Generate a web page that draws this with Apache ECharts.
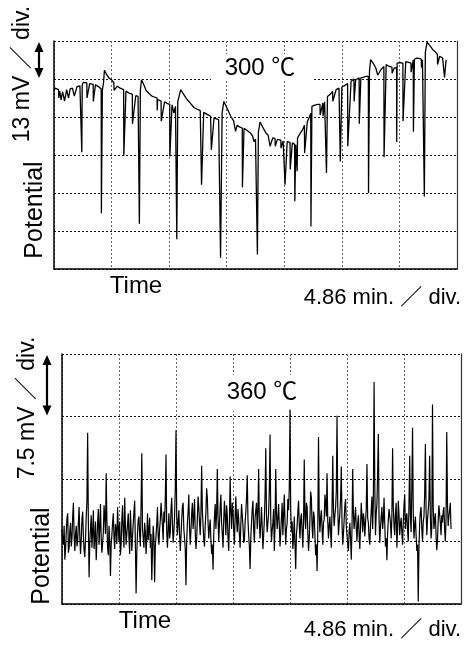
<!DOCTYPE html>
<html><head><meta charset="utf-8">
<script src="https://cdn.jsdelivr.net/npm/echarts@6/dist/echarts.min.js"></script>
<style>html,body{margin:0;padding:0;background:#fff}#c{width:465px;height:645px}</style>
</head><body><div id="c"></div>
<script>
// ---- data (x in divisions of 4.86 min, y in divisions of the mV scale) ----
const topTrace = [[0.00,4.70],[0.02,4.76],[0.05,4.74],[0.08,4.72],[0.083,4.50],[0.10,4.68],[0.12,4.70],[0.123,4.45],[0.15,4.66],[0.18,4.70],[0.183,4.42],[0.22,4.72],[0.25,4.73],[0.253,4.50],[0.28,4.74],[0.32,4.76],[0.35,4.78],[0.353,4.55],[0.40,4.80],[0.45,4.82],[0.48,4.82],[0.483,3.07],[0.49,4.84],[0.51,4.91],[0.54,4.90],[0.57,4.90],[0.573,4.50],[0.62,4.88],[0.68,4.86],[0.683,4.41],[0.72,4.85],[0.77,4.80],[0.80,4.78],[0.82,4.74],[0.823,1.47],[0.84,4.70],[0.86,4.90],[0.876,5.23],[0.92,5.10],[0.96,5.02],[1.00,4.98],[1.04,4.90],[1.043,4.70],[1.10,4.81],[1.15,4.76],[1.21,4.72],[1.213,2.98],[1.25,4.68],[1.30,4.63],[1.36,4.60],[1.363,3.82],[1.42,4.56],[1.46,4.54],[1.48,4.52],[1.483,1.19],[1.50,4.70],[1.52,4.98],[1.56,4.85],[1.60,4.70],[1.65,4.62],[1.70,4.55],[1.75,4.52],[1.79,4.50],[1.793,4.17],[1.80,4.46],[1.86,4.42],[1.863,3.89],[1.92,4.40],[1.96,4.36],[2.01,4.33],[2.013,2.96],[2.05,4.32],[2.08,4.30],[2.083,4.10],[2.11,4.28],[2.13,4.25],[2.133,0.78],[2.15,4.40],[2.20,4.72],[2.25,4.60],[2.31,4.46],[2.36,4.38],[2.43,4.25],[2.48,4.21],[2.54,4.17],[2.56,4.16],[2.563,2.22],[2.60,4.12],[2.66,4.07],[2.72,4.02],[2.73,4.01],[2.733,3.14],[2.78,3.98],[2.82,3.95],[2.86,3.93],[2.89,3.91],[2.893,0.29],[2.92,4.10],[2.95,4.41],[3.00,4.25],[3.07,4.02],[3.12,3.90],[3.15,3.85],[3.153,3.62],[3.18,3.78],[3.22,3.74],[3.27,3.71],[3.273,2.15],[3.30,3.70],[3.35,3.65],[3.41,3.58],[3.45,3.50],[3.47,3.46],[3.473,3.35],[3.50,3.42],[3.53,3.38],[3.533,0.38],[3.55,3.60],[3.58,3.87],[3.63,3.72],[3.68,3.58],[3.72,3.52],[3.75,3.50],[3.753,3.23],[3.80,3.45],[3.84,3.43],[3.843,3.23],[3.88,3.41],[3.91,3.40],[3.94,3.39],[3.943,3.18],[3.98,3.37],[4.01,3.36],[4.013,2.22],[4.05,3.35],[4.10,3.33],[4.103,2.62],[4.14,3.32],[4.16,3.30],[4.18,3.28],[4.183,1.78],[4.20,3.27],[4.22,3.30],[4.223,2.57],[4.23,3.45],[4.28,3.58],[4.32,3.67],[4.35,3.78],[4.353,3.05],[4.40,3.88],[4.43,3.97],[4.46,4.10],[4.463,1.12],[4.48,4.28],[4.53,4.31],[4.58,4.33],[4.62,4.33],[4.623,4.05],[4.67,4.37],[4.673,4.02],[4.70,4.40],[4.73,4.45],[4.733,2.53],[4.75,4.54],[4.80,4.60],[4.84,4.67],[4.843,4.41],[4.90,4.72],[4.95,4.76],[4.97,4.77],[4.973,2.83],[5.00,4.79],[5.04,4.82],[5.10,4.88],[5.103,3.23],[5.16,4.94],[5.21,5.00],[5.213,4.41],[5.24,4.98],[5.30,5.03],[5.303,3.82],[5.33,5.03],[5.38,5.05],[5.42,5.07],[5.46,5.07],[5.463,2.00],[5.48,5.20],[5.50,5.51],[5.55,5.40],[5.59,5.29],[5.62,5.28],[5.623,5.10],[5.68,5.25],[5.73,5.33],[5.733,2.94],[5.77,5.38],[5.82,5.33],[5.87,5.31],[5.873,5.15],[5.91,5.29],[5.95,5.30],[5.953,3.34],[5.96,5.42],[6.02,5.43],[6.06,5.42],[6.063,3.89],[6.11,5.46],[6.16,5.44],[6.20,5.42],[6.203,5.18],[6.24,5.50],[6.243,3.61],[6.26,5.52],[6.30,5.55],[6.34,5.54],[6.38,5.52],[6.383,5.30],[6.40,5.50],[6.43,5.45],[6.433,1.91],[6.45,5.70],[6.48,5.97],[6.53,5.88],[6.58,5.77],[6.62,5.72],[6.66,5.64],[6.663,5.38],[6.70,5.60],[6.75,5.55],[6.78,5.53],[6.783,5.04],[6.81,5.50]];

const bottomStep = 0.0125; // sample spacing, divisions
const bottomPotential = [
1.20,1.02,0.95,1.25,0.71,0.88,1.15,1.38,1.45,0.82,0.90,1.18,1.30,0.92,1.05,1.40,1.62,1.10,0.85,1.12,
1.25,0.92,1.00,1.30,1.55,1.08,0.80,1.02,1.35,1.48,1.10,0.86,0.75,1.05,1.40,1.65,2.74,1.30,0.43,0.98,
1.20,1.42,0.90,1.15,1.50,0.88,1.05,1.32,0.70,1.00,1.30,1.52,0.95,1.22,1.60,1.05,0.82,0.98,1.15,1.58,
1.40,1.12,2.09,1.35,0.90,0.78,1.25,1.02,0.45,0.95,1.10,1.30,1.45,1.05,0.88,1.28,1.20,0.96,1.55,1.22,
1.00,1.32,0.78,0.95,1.35,1.58,1.12,0.90,1.70,1.25,0.95,1.12,1.28,1.45,1.05,0.80,1.50,1.18,0.85,1.08,
1.30,1.48,1.65,0.95,0.17,0.82,1.15,1.35,1.40,1.10,0.92,1.60,2.41,1.20,1.05,0.90,1.30,1.15,0.80,1.05,
1.45,1.02,1.18,1.38,0.90,1.12,0.38,0.85,1.25,1.05,0.35,0.92,1.10,1.28,1.55,1.08,0.95,1.20,1.35,1.62,
1.60,1.25,1.02,1.48,1.30,1.70,2.39,1.15,0.90,1.20,1.45,1.05,1.15,1.52,1.70,1.28,0.98,1.15,1.40,1.85,
2.78,1.40,1.10,1.32,1.50,1.12,0.85,1.08,1.35,1.55,1.62,1.20,1.05,0.88,0.30,1.00,1.30,1.48,1.75,1.22,
0.95,1.18,1.45,1.62,1.20,1.40,1.68,1.15,0.88,1.05,1.38,1.72,1.55,1.30,1.10,1.45,2.21,1.50,1.25,1.02,
0.92,1.25,1.48,1.85,1.70,1.30,1.05,1.22,1.35,1.02,0.80,0.95,0.55,1.10,1.40,1.60,1.20,1.45,2.16,1.38,
1.00,1.28,1.55,1.75,1.30,1.12,0.90,1.35,1.65,1.40,1.10,1.58,1.42,1.05,0.85,1.30,2.04,1.48,1.20,1.62,
1.50,1.18,0.95,1.40,1.72,1.35,1.15,1.52,1.35,1.10,0.90,1.28,1.60,1.42,1.25,0.98,1.02,1.30,1.48,1.70,
2.06,1.35,1.10,0.92,0.56,1.05,1.30,1.52,1.65,1.20,0.98,1.38,1.40,1.62,1.20,1.48,2.16,1.30,1.05,1.28,
1.55,1.22,0.88,1.10,1.35,1.75,2.49,1.40,1.15,1.30,1.45,1.85,2.71,1.35,1.00,1.18,1.30,1.52,0.85,1.25,
2.16,1.45,1.20,1.38,1.60,1.25,0.92,1.15,1.38,1.62,1.10,1.42,1.75,1.30,0.95,1.20,1.30,1.68,1.50,1.85,
3.11,1.50,1.15,1.32,0.88,1.05,1.40,0.95,0.56,1.10,1.25,1.48,1.65,1.28,1.05,1.35,1.45,1.18,0.90,1.30,
2.31,1.40,1.20,1.62,1.55,1.15,0.85,1.05,1.35,1.80,1.70,1.25,1.05,1.48,1.40,1.10,0.78,0.95,0.53,1.20,
2.67,1.45,1.15,1.38,1.50,1.22,0.95,1.30,1.35,1.75,1.62,1.40,2.09,1.32,1.05,1.25,1.40,1.15,0.90,1.55,
2.37,1.50,1.25,1.42,1.55,1.80,3.01,1.60,1.10,1.28,1.45,1.70,2.20,1.30,0.95,1.12,1.35,1.58,1.68,1.25,
1.10,0.95,0.85,1.15,1.30,1.05,0.71,1.20,2.16,1.45,1.20,1.38,1.55,1.22,1.00,1.30,1.42,1.10,0.88,1.25,
1.62,1.40,1.15,1.45,1.35,1.08,1.05,1.52,2.24,1.38,1.30,1.05,0.95,1.25,1.50,1.72,1.20,1.65,3.55,1.90,
1.10,1.45,1.60,2.10,2.72,1.35,0.98,1.22,1.40,1.55,1.20,1.35,1.70,1.28,0.92,1.05,0.70,1.12,1.35,1.52,
1.55,1.30,1.05,1.40,2.49,1.55,1.25,1.10,1.45,1.62,0.90,1.20,1.65,1.42,1.10,1.28,1.38,1.15,0.95,1.30,
1.58,1.75,1.20,1.38,1.45,1.18,1.00,1.60,2.37,1.40,1.15,1.85,2.82,1.45,1.05,1.25,1.40,1.10,0.85,0.95,
0.04,0.90,1.30,1.48,1.55,1.20,1.00,1.32,1.40,1.75,2.56,1.50,1.10,1.35,1.50,1.68,2.37,1.40,1.05,1.22,
3.19,1.55,1.20,1.35,1.45,1.10,0.86,1.02,1.35,1.58,1.60,1.30,1.10,1.42,1.30,1.48,1.55,1.20,1.00,1.35,
2.75,1.60,1.25,1.40,1.50,1.62,1.20];

const topTitle = '300 ℃';
const bottomTitle = '360 ℃';
const topScale = '13 mV ／ div.';
const bottomScale = '7.5 mV ／ div.';
const yName = 'Potential';
const xName = 'Time';
const xScale = '4.86 min. ／ div.';

const FONT = "'Liberation Sans', Arial, 'Noto Sans CJK JP', sans-serif";
const chart = echarts.init(document.getElementById('c'), null, {renderer: 'canvas'});

function xAx(g) {
  return {gridIndex: g, type: 'value', min: 0, max: 7, interval: 1,
    axisLabel: {show: false}, axisTick: {show: false},
    axisLine: {show: true, lineStyle: {color: '#000', width: 1.5}},
    splitLine: {show: true, lineStyle: {color: '#666', type: [2, 2], width: 1}}};
}
function yAx(g, max, pos) {
  const right = pos === 'right';
  return {gridIndex: g, type: 'value', min: 0, max: max, interval: 1, position: pos,
    axisLabel: {show: false}, axisTick: {show: false},
    axisLine: {show: true, onZero: false, lineStyle: {color: right ? '#333' : '#000', width: right ? 1.2 : 1.5}},
    splitLine: {show: !right, lineStyle: {color: '#111', type: [2, 2], width: 1}}};
}

const bottomData = bottomPotential.map((v, i) => [i * bottomStep, v]);

chart.setOption({
  animation: false,
  backgroundColor: '#fff',
  grid: [
    {left: 54, top: 41, width: 403, height: 228},
    {left: 62, top: 354, width: 399, height: 250}
  ],
  xAxis: [xAx(0), xAx(1)],
  yAxis: [yAx(0, 6, 'left'), yAx(0, 6, 'right'), yAx(1, 4, 'left'), yAx(1, 4, 'right')],
  series: [
    {type: 'line', xAxisIndex: 0, yAxisIndex: 0, data: topTrace, showSymbol: false, z: 10,
      lineStyle: {color: '#000', width: 1.3}},
    {type: 'line', xAxisIndex: 1, yAxisIndex: 2, data: bottomData, showSymbol: false, z: 10,
      lineStyle: {color: '#000', width: 1.2}}
  ]
});

function px(g, x, y) { return chart.convertToPixel({gridIndex: g}, [x, y]); }
function arrow(g, x, yTopVal, yBotVal) {
  const a = px(g, 0, yTopVal), b = px(g, 0, yBotVal);
  const t = a[1] + 1, bt = b[1] - 1;
  return [
    {type: 'line', z: 3, shape: {x1: x, y1: t + 8, x2: x, y2: bt - 8}, style: {stroke: '#000', lineWidth: 2.2}},
    {type: 'polygon', z: 3, shape: {points: [[x, t], [x - 4.5, t + 10], [x + 4.5, t + 10]]}, style: {fill: '#000'}},
    {type: 'polygon', z: 3, shape: {points: [[x, bt], [x - 4.5, bt - 10], [x + 4.5, bt - 10]]}, style: {fill: '#000'}}
  ];
}
function txt(x, y, s, size, rot, align) {
  return {type: 'text', x: x, y: y, rotation: rot || 0, z: 20,
    style: {text: s, fontSize: size, fontFamily: FONT, fill: '#000',
      align: align || 'center', verticalAlign: 'middle', textAlign: align || 'center', textVerticalAlign: 'middle'}};
}

const g = [];
// label boxes
g.push({type: 'rect', z: 1, shape: {x: 211, y: 54, width: 101, height: 27}, style: {fill: '#fff'}});
g.push({type: 'rect', z: 1, shape: {x: 218, y: 375, width: 84, height: 36}, style: {fill: '#fff'}});
g.push(txt(260, 68, topTitle, 24));
g.push(txt(262, 392, bottomTitle, 24));
// y scale labels
g.push(txt(23, 74, topScale, 23, Math.PI / 2));
g.push(txt(28, 408, bottomScale, 23, Math.PI / 2));
g.push(txt(35, 210, yName, 25, Math.PI / 2));
g.push(txt(42, 556, yName, 25, Math.PI / 2));
// x labels
g.push(txt(136, 286, xName, 24));
g.push(txt(145, 621, xName, 24));
g.push(txt(461, 298, xScale, 22, 0, 'right'));
g.push(txt(461, 630, xScale, 22, 0, 'right'));
// arrows (one division)
arrow(0, 39, 6, 5).forEach(e => g.push(e));
arrow(1, 47, 4, 3).forEach(e => g.push(e));

chart.setOption({graphic: {elements: g}});
</script></body></html>
